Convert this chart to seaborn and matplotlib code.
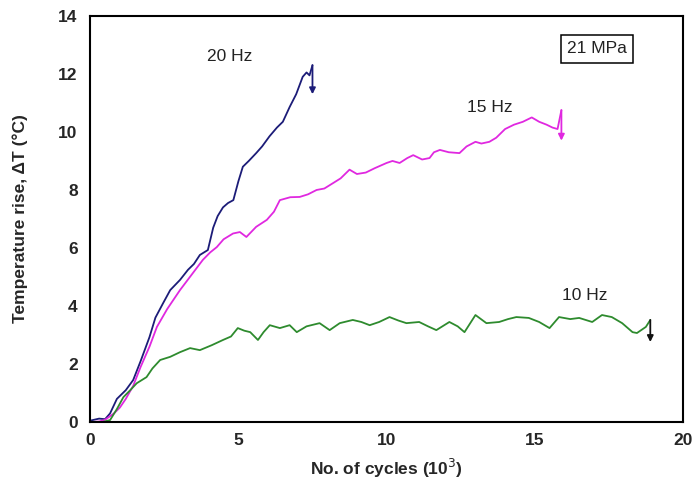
import numpy as np
import pandas as pd
import matplotlib.pyplot as plt
import seaborn as sns

# Temperature rise vs. cycles at 21 MPa, three loading frequencies
x_20hz = [0, 0.3, 0.5, 0.67, 0.9, 1.2, 1.45, 1.7, 2.0, 2.2, 2.46, 2.7, 3.03, 3.3, 3.5, 3.7, 3.97,
          4.15, 4.3, 4.48, 4.65, 4.83, 5.0, 5.15, 5.35, 5.6, 5.8, 6.05, 6.3, 6.5, 6.73, 6.95,
          7.17, 7.3, 7.4, 7.5]
y_20hz = [0.05, 0.12, 0.1, 0.3, 0.8, 1.1, 1.45, 2.1, 2.93, 3.6, 4.1, 4.55, 4.9, 5.25, 5.45, 5.76, 5.93,
          6.7, 7.1, 7.4, 7.55, 7.65, 8.3, 8.8, 9.0, 9.27, 9.5, 9.85, 10.15, 10.35, 10.86, 11.3,
          11.9, 12.05, 11.95, 12.3]

x_15hz = [0, 0.3, 0.5, 0.8, 1.0, 1.2, 1.45, 1.7, 2.0, 2.25, 2.6, 3.03, 3.4, 3.8, 4.05, 4.27,
          4.5, 4.82, 5.05, 5.27, 5.6, 5.96, 6.2, 6.4, 6.75, 7.07, 7.35, 7.64, 7.9, 8.2, 8.45,
          8.75, 9.0, 9.3, 9.6, 10.0, 10.2, 10.44, 10.7, 10.9, 11.2, 11.45, 11.6, 11.8, 12.1,
          12.46, 12.7, 13.0, 13.2, 13.47, 13.7, 14.0, 14.3, 14.6, 14.9, 15.15, 15.4, 15.6,
          15.77, 15.9]
y_15hz = [0.0, 0.02, 0.08, 0.3, 0.5, 0.8, 1.25, 1.9, 2.6, 3.28, 3.9, 4.55, 5.05, 5.59, 5.85, 6.03,
          6.3, 6.5, 6.55, 6.38, 6.73, 6.97, 7.25, 7.65, 7.75, 7.76, 7.85, 8.0, 8.05, 8.24, 8.4,
          8.7, 8.55, 8.6, 8.75, 8.93, 9.0, 8.93, 9.1, 9.2, 9.05, 9.1, 9.3, 9.38, 9.3,
          9.27, 9.5, 9.66, 9.6, 9.66, 9.8, 10.1, 10.25, 10.35, 10.5, 10.35, 10.25, 10.15,
          10.1, 10.75]

x_10hz = [0, 0.4, 0.67, 0.9, 1.12, 1.35, 1.57, 1.9, 2.1, 2.36, 2.7, 3.03, 3.37, 3.7, 4.1, 4.48,
          4.75, 4.98, 5.2, 5.4, 5.66, 5.85, 6.06, 6.4, 6.73, 6.97, 7.3, 7.74, 8.08, 8.42, 8.86,
          9.15, 9.43, 9.75, 10.1, 10.4, 10.67, 11.1, 11.4, 11.68, 12.12, 12.4, 12.63, 13.0,
          13.37, 13.8, 14.1, 14.38, 14.8, 15.15, 15.5, 15.82, 16.2, 16.5, 16.94, 17.27, 17.6,
          17.95, 18.3, 18.45, 18.75, 18.9]
y_10hz = [0.0, 0.0, 0.07, 0.45, 0.86, 1.1, 1.34, 1.55, 1.85, 2.14, 2.25, 2.41, 2.55, 2.48, 2.65, 2.83,
          2.95, 3.24, 3.15, 3.1, 2.83, 3.1, 3.34, 3.24, 3.34, 3.1, 3.3, 3.41, 3.17, 3.41, 3.52,
          3.45, 3.34, 3.45, 3.62, 3.5, 3.41, 3.45, 3.3, 3.17, 3.45, 3.3, 3.1, 3.69,
          3.41, 3.45, 3.55, 3.62, 3.59, 3.45, 3.24, 3.62, 3.55, 3.59, 3.45, 3.69, 3.62,
          3.41, 3.1, 3.07, 3.28, 3.52]

# where each record breaks off (arrow tip)
drop_to = {"20 Hz": 11.3, "15 Hz": 9.7, "10 Hz": 2.76}
label_pos = {"20 Hz": (4.7, 12.6), "15 Hz": (13.5, 10.85), "10 Hz": (16.7, 4.35)}

colors = {"20 Hz": "#1c1c78", "15 Hz": "#e028e0", "10 Hz": "#2e8b2e"}
arrow_colors = {"20 Hz": "#1c1c78", "15 Hz": "#e028e0", "10 Hz": "#111111"}

df = pd.concat([
    pd.DataFrame({"cycles": x_20hz, "dT": y_20hz, "freq": "20 Hz"}),
    pd.DataFrame({"cycles": x_15hz, "dT": y_15hz, "freq": "15 Hz"}),
    pd.DataFrame({"cycles": x_10hz, "dT": y_10hz, "freq": "10 Hz"}),
])

sns.set_style("white")
plt.rcParams["font.family"] = ["Liberation Sans", "DejaVu Sans"]

fig = plt.figure(figsize=(6.94, 4.96), dpi=100)
ax = fig.add_axes([0.13, 0.149, 0.854, 0.819])

sns.lineplot(data=df, x="cycles", y="dT", hue="freq", palette=colors, sort=False,
             estimator=None, linewidth=1.3, legend=False, ax=ax)

for freq, g in df.groupby("freq"):
    xe, ye = g["cycles"].iloc[-1], g["dT"].iloc[-1]
    ax.annotate("", xy=(xe, drop_to[freq]), xytext=(xe, ye),
                arrowprops=dict(arrowstyle="-|>", color=arrow_colors[freq], lw=1.3,
                                mutation_scale=9, shrinkA=0, shrinkB=0))
    ax.text(*label_pos[freq], freq, ha="center", va="center", fontsize=12.5, color="#222222")

ax.text(17.1, 12.86, "21 MPa", ha="center", va="center", fontsize=12.5, color="#222222",
        bbox=dict(boxstyle="square,pad=0.35", fc="white", ec="black", lw=1.1))

ax.set_xlim(0, 20)
ax.set_ylim(0, 14)
ax.set_xticks([0, 5, 10, 15, 20])
ax.set_yticks(range(0, 15, 2))
ax.tick_params(axis="x", direction="in", length=5, width=1.2, pad=8, labelsize=12.5)
ax.tick_params(axis="y", direction="out", length=5, width=1.2, pad=4, labelsize=12.5)
for lab in ax.get_xticklabels() + ax.get_yticklabels():
    lab.set_fontweight("bold")
for sp in ax.spines.values():
    sp.set_visible(True)
    sp.set_color("black")
    sp.set_linewidth(1.5)

ax.set_xlabel("No. of cycles (10$^3$)", fontsize=12.5, fontweight="bold", labelpad=6)
ax.set_ylabel("Temperature rise, \u0394T (\u00b0C)", fontsize=12.5, fontweight="bold", labelpad=22)

fig.savefig("out.png", dpi=100)
